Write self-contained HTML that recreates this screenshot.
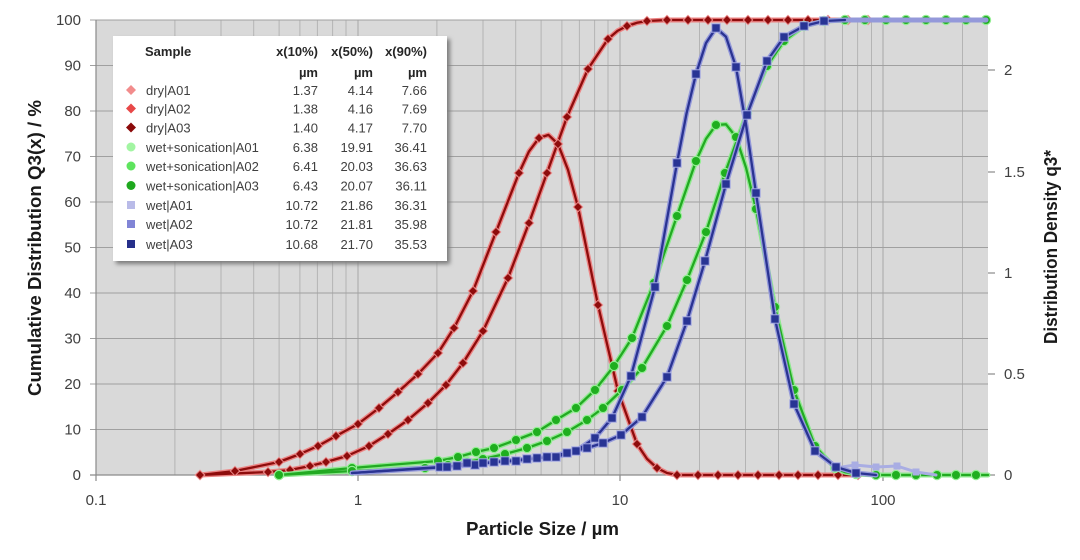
<!DOCTYPE html>
<html><head><meta charset="utf-8"><style>
html,body{margin:0;padding:0;background:#fff;}
svg{display:block;font-family:"Liberation Sans",sans-serif;}
</style></head><body>
<svg width="1080" height="560" viewBox="0 0 1080 560" xmlns="http://www.w3.org/2000/svg">
<defs>
<marker id="md" markerWidth="12" markerHeight="12" refX="6" refY="6" markerUnits="userSpaceOnUse" overflow="visible"><path d="M6 1.3 L10.7 6 L6 10.7 L1.3 6Z" fill="#8e0c0c" stroke="#ec8c8c" stroke-width="1"/></marker>
<marker id="mg" markerWidth="12" markerHeight="12" refX="6" refY="6" markerUnits="userSpaceOnUse" overflow="visible"><circle cx="6" cy="6" r="4.6" fill="#1fae1f" stroke="#93ee93" stroke-width="1.2"/></marker>
<marker id="mb" markerWidth="12" markerHeight="12" refX="6" refY="6" markerUnits="userSpaceOnUse" overflow="visible"><rect x="1.8" y="1.8" width="8.4" height="8.4" fill="#283494" stroke="#a3a8e2" stroke-width="1"/></marker>
<marker id="mbl" markerWidth="12" markerHeight="12" refX="6" refY="6" markerUnits="userSpaceOnUse" overflow="visible"><rect x="2.5" y="2.5" width="7" height="7" fill="#a9ade3"/></marker>
<filter id="sh" x="-5%" y="-5%" width="110%" height="110%"><feGaussianBlur stdDeviation="2"/></filter>
</defs>

<!-- plot background -->
<rect x="96" y="20" width="892" height="455" fill="#d9d9d9"/>

<!-- vertical grid -->
<g stroke="#b4b4b4" stroke-width="1">
<line x1="174.9" y1="20" x2="174.9" y2="475"/><line x1="221" y1="20" x2="221" y2="475"/><line x1="253.7" y1="20" x2="253.7" y2="475"/><line x1="279.1" y1="20" x2="279.1" y2="475"/><line x1="299.9" y1="20" x2="299.9" y2="475"/><line x1="317.4" y1="20" x2="317.4" y2="475"/><line x1="332.6" y1="20" x2="332.6" y2="475"/><line x1="346" y1="20" x2="346" y2="475"/>
<line x1="358" y1="20" x2="358" y2="475" stroke="#a8a8a8"/>
<line x1="436.9" y1="20" x2="436.9" y2="475"/><line x1="483" y1="20" x2="483" y2="475"/><line x1="515.7" y1="20" x2="515.7" y2="475"/><line x1="541.1" y1="20" x2="541.1" y2="475"/><line x1="561.9" y1="20" x2="561.9" y2="475"/><line x1="579.4" y1="20" x2="579.4" y2="475"/><line x1="594.6" y1="20" x2="594.6" y2="475"/><line x1="608" y1="20" x2="608" y2="475"/>
<line x1="620" y1="20" x2="620" y2="475" stroke="#a8a8a8"/>
<line x1="699.5" y1="20" x2="699.5" y2="475"/><line x1="745.5" y1="20" x2="745.5" y2="475"/><line x1="778.5" y1="20" x2="778.5" y2="475"/><line x1="804" y1="20" x2="804" y2="475"/><line x1="825" y1="20" x2="825" y2="475"/><line x1="842.5" y1="20" x2="842.5" y2="475"/><line x1="857.6" y1="20" x2="857.6" y2="475"/><line x1="871.5" y1="20" x2="871.5" y2="475"/>
<line x1="883" y1="20" x2="883" y2="475" stroke="#a8a8a8"/>
<line x1="962.5" y1="20" x2="962.5" y2="475"/>
</g>
<!-- horizontal grid -->
<g stroke="#a0a0a0" stroke-width="1">
<line x1="90" y1="20" x2="988" y2="20"/><line x1="90" y1="65.5" x2="988" y2="65.5"/><line x1="90" y1="111" x2="988" y2="111"/><line x1="90" y1="156.5" x2="988" y2="156.5"/><line x1="90" y1="202" x2="988" y2="202"/><line x1="90" y1="247.5" x2="988" y2="247.5"/><line x1="90" y1="293" x2="988" y2="293"/><line x1="90" y1="338.5" x2="988" y2="338.5"/><line x1="90" y1="384" x2="988" y2="384"/><line x1="90" y1="429.5" x2="988" y2="429.5"/>
</g>
<!-- axes -->
<g stroke="#8a8a8a" stroke-width="1.2">
<line x1="96" y1="20" x2="96" y2="475"/>
<line x1="90" y1="475" x2="988" y2="475"/>
<line x1="96" y1="475" x2="96" y2="481"/><line x1="358" y1="475" x2="358" y2="481"/><line x1="620" y1="475" x2="620" y2="481"/><line x1="883" y1="475" x2="883" y2="481"/>
<line x1="988" y1="475" x2="995" y2="475"/><line x1="988" y1="374" x2="995" y2="374"/><line x1="988" y1="273" x2="995" y2="273"/><line x1="988" y1="172" x2="995" y2="172"/><line x1="988" y1="70" x2="995" y2="70"/>
</g>

<!-- tick labels -->
<g font-size="15" fill="#404040" text-anchor="end">
<text x="81" y="25">100</text><text x="81" y="70.5">90</text><text x="81" y="116">80</text><text x="81" y="161.5">70</text><text x="81" y="207">60</text><text x="81" y="252.5">50</text><text x="81" y="298">40</text><text x="81" y="343.5">30</text><text x="81" y="389">20</text><text x="81" y="434.5">10</text><text x="81" y="480">0</text>
</g>
<g font-size="15" fill="#404040" text-anchor="start">
<text x="1004" y="480">0</text><text x="1004" y="379">0.5</text><text x="1004" y="278">1</text><text x="1004" y="177">1.5</text><text x="1004" y="75">2</text>
</g>
<g font-size="15" fill="#404040" text-anchor="middle">
<text x="96" y="505">0.1</text><text x="358" y="505">1</text><text x="620" y="505">10</text><text x="883" y="505">100</text>
</g>

<!-- axis titles -->
<text x="542.5" y="535" font-size="18" font-weight="bold" fill="#1a1a1a" text-anchor="middle" textLength="153" lengthAdjust="spacingAndGlyphs">Particle Size / µm</text>
<text transform="translate(41,248) rotate(-90)" font-size="18" font-weight="bold" fill="#1a1a1a" text-anchor="middle" textLength="296" lengthAdjust="spacingAndGlyphs">Cumulative Distribution Q3(x) / %</text>
<text transform="translate(1057,247) rotate(-90)" font-size="18" font-weight="bold" fill="#1a1a1a" text-anchor="middle" textLength="194" lengthAdjust="spacingAndGlyphs">Distribution Density q3*</text>

<!-- ===== DRY ===== -->
<g fill="none" stroke-linejoin="round" stroke-linecap="round">
<polyline stroke="#ec8484" stroke-width="5" points="200,475 235,471 279,462 300,454 318,446 336,436 358,424 379,408 398,392 418,374 438,353 454,328 473,291 496,232 519,173 529,151.4 539,138 548.5,134.9 558,144 568,169.8 578,207 598,305 618,391 637,444 647,458.9 657,468 667,473 677,475 858,475"/>
<polyline stroke="#ec8484" stroke-width="5" points="200,475 268,472 290,470 310,466 326,462 347,456 369,446 388,434 408,420 428,403 446,385 463,363 483,331 508,278 529,223 547,173 567,117 588,69 608,39 617.5,30.9 627,26 637,22.8 647,21 667,20 868,20"/>
<polyline stroke="#8e0c0c" stroke-width="2.3" points="200,475 235,471 279,462 300,454 318,446 336,436 358,424 379,408 398,392 418,374 438,353 454,328 473,291 496,232 519,173 529,151.4 539,138 548.5,134.9 558,144 568,169.8 578,207 598,305 618,391 637,444 647,458.9 657,468 667,473 677,475 858,475"/>
<polyline stroke="#8e0c0c" stroke-width="2.3" points="200,475 268,472 290,470 310,466 326,462 347,456 369,446 388,434 408,420 428,403 446,385 463,363 483,331 508,278 529,223 547,173 567,117 588,69 608,39 617.5,30.9 627,26 637,22.8 647,21 667,20 868,20"/>
<polyline stroke="none" marker-start="url(#md)" marker-mid="url(#md)" marker-end="url(#md)" points="200,475 235,471 279,462 300,454 318,446 336,436 358,424 379,408 398,392 418,374 438,353 454,328 473,291 496,232 519,173 539,138 558,144 578,207 598,305 618,391 637,444 657,468 677,475 698,475 718,475 738,475 758,475 779,475 798,475 818,475 838,475 858,475"/>
<polyline stroke="none" marker-start="url(#md)" marker-mid="url(#md)" marker-end="url(#md)" points="200,475 268,472 290,470 310,466 326,462 347,456 369,446 388,434 408,420 428,403 446,385 463,363 483,331 508,278 529,223 547,173 567,117 588,69 608,39 627,26 647,21 667,20 688,20 708,20 727,20 748,20 768,20 788,20 808,20 828,20 848,20 868,20"/>
</g>

<!-- ===== WET + SONICATION (green) ===== -->
<g fill="none" stroke-linejoin="round" stroke-linecap="round">
<polyline stroke="#8fe88f" stroke-width="5" points="279,475 352,468 438,461 458,457 476,452 494,448 516,440 537,432 556,420 576,408 595,390 614,366 632,338 654,283 677,216 696,161 706,138.8 716,125 726,124.3 736,137 746,167.6 756,209 775,307 794,390 815,446 835,468 845.5,472.3 856,474 876,475 988,475"/>
<polyline stroke="#8fe88f" stroke-width="5" points="279,475 352,471 425,468 448,465 467,462 483,459 505,454 527,448 547,441 567,432 587,420 603,408 622,390 642,368 667,326 687,280 706,232 725,173 747,113 767,66 784,41 804,26 824,21 845,20 988,20"/>
<polyline stroke="#22aa22" stroke-width="2.3" points="279,475 352,468 438,461 458,457 476,452 494,448 516,440 537,432 556,420 576,408 595,390 614,366 632,338 654,283 677,216 696,161 706,138.8 716,125 726,124.3 736,137 746,167.6 756,209 775,307 794,390 815,446 835,468 845.5,472.3 856,474 876,475 988,475"/>
<polyline stroke="#22aa22" stroke-width="2.3" points="279,475 352,471 425,468 448,465 467,462 483,459 505,454 527,448 547,441 567,432 587,420 603,408 622,390 642,368 667,326 687,280 706,232 725,173 747,113 767,66 784,41 804,26 824,21 845,20 988,20"/>
<polyline stroke="none" marker-start="url(#mg)" marker-mid="url(#mg)" marker-end="url(#mg)" points="279,475 352,468 438,461 458,457 476,452 494,448 516,440 537,432 556,420 576,408 595,390 614,366 632,338 654,283 677,216 696,161 716,125 736,137 756,209 775,307 794,390 815,446 835,468 856,474 876,475 896,475 916,475 937,475 956,475 976,475"/>
<polyline stroke="none" marker-start="url(#mg)" marker-mid="url(#mg)" marker-end="url(#mg)" points="279,475 352,471 425,468 448,465 467,462 483,459 505,454 527,448 547,441 567,432 587,420 603,408 622,390 642,368 667,326 687,280 706,232 725,173 747,113 767,66 784,41 804,26 824,21 845,20 865,20 886,20 906,20 926,20 946,20 966,20 986,20"/>
</g>

<!-- ===== WET (blue) ===== -->
<g fill="none" stroke-linejoin="round" stroke-linecap="round">
<polyline stroke="#a9ade3" stroke-width="3" marker-mid="url(#mbl)" points="836,468 855,465 876,467 897,466 916,472 936,475"/>
<polyline stroke="#9499da" stroke-width="5" points="352,473 440,467 457,466 475,465 494,462 516,461 537,458 556,457 576,451 595,438 612,418 631,376 655,287 677,163 686.5,113.6 696,74 706,43 716,28 726,36.8 736,67 746,124.6 756,193 775,319 794,404 815,451 836,467 856,473 876,475"/>
<polyline stroke="#9499da" stroke-width="5" points="352,473 447,467 467,463 483,463 505,461 527,459 547,457 567,453 587,448 603,443 621,435 642,417 667,377 687,321 705,261 726,184 747,115 767,61 784,37 804,26 824,21 845,20 986,20"/>
<polyline stroke="#2a3392" stroke-width="2.3" points="352,473 440,467 457,466 475,465 494,462 516,461 537,458 556,457 576,451 595,438 612,418 631,376 655,287 677,163 686.5,113.6 696,74 706,43 716,28 726,36.8 736,67 746,124.6 756,193 775,319 794,404 815,451 836,467 856,473 876,475"/>
<polyline stroke="#2a3392" stroke-width="2.3" points="352,473 447,467 467,463 483,463 505,461 527,459 547,457 567,453 587,448 603,443 621,435 642,417 667,377 687,321 705,261 726,184 747,115 767,61 784,37 804,26 824,21 845,20"/>
<polyline stroke="none" marker-mid="url(#mb)" points="352,473 440,467 457,466 475,465 494,462 516,461 537,458 556,457 576,451 595,438 612,418 631,376 655,287 677,163 696,74 716,28 736,67 756,193 775,319 794,404 815,451 836,467 856,473 876,475"/>
<polyline stroke="none" marker-mid="url(#mb)" points="352,473 447,467 467,463 483,463 505,461 527,459 547,457 567,453 587,448 603,443 621,435 642,417 667,377 687,321 705,261 726,184 747,115 767,61 784,37 804,26 824,21 845,20"/>
</g>

<!-- ===== LEGEND ===== -->
<rect x="116" y="39" width="334" height="225" fill="#7a7a7a" filter="url(#sh)"/>
<rect x="113" y="36" width="334" height="225" fill="#ffffff"/>
<g font-size="13" fill="#262626">
<text x="145" y="56" font-weight="bold">Sample</text>
<g text-anchor="end" font-weight="bold">
<text x="318" y="56">x(10%)</text><text x="373" y="56">x(50%)</text><text x="427" y="56">x(90%)</text>
<text x="318" y="77">µm</text><text x="373" y="77">µm</text><text x="427" y="77">µm</text>
</g>
</g>
<g font-size="13" fill="#404040">
<text x="146" y="95">dry|A01</text>
<text x="146" y="113.5">dry|A02</text>
<text x="146" y="132.5">dry|A03</text>
<text x="146" y="152">wet+sonication|A01</text>
<text x="146" y="171">wet+sonication|A02</text>
<text x="146" y="190.5">wet+sonication|A03</text>
<text x="146" y="210">wet|A01</text>
<text x="146" y="229">wet|A02</text>
<text x="146" y="249">wet|A03</text>
<g text-anchor="end">
<text x="318" y="95">1.37</text><text x="373" y="95">4.14</text><text x="427" y="95">7.66</text>
<text x="318" y="113.5">1.38</text><text x="373" y="113.5">4.16</text><text x="427" y="113.5">7.69</text>
<text x="318" y="132.5">1.40</text><text x="373" y="132.5">4.17</text><text x="427" y="132.5">7.70</text>
<text x="318" y="152">6.38</text><text x="373" y="152">19.91</text><text x="427" y="152">36.41</text>
<text x="318" y="171">6.41</text><text x="373" y="171">20.03</text><text x="427" y="171">36.63</text>
<text x="318" y="190.5">6.43</text><text x="373" y="190.5">20.07</text><text x="427" y="190.5">36.11</text>
<text x="318" y="210">10.72</text><text x="373" y="210">21.86</text><text x="427" y="210">36.31</text>
<text x="318" y="229">10.72</text><text x="373" y="229">21.81</text><text x="427" y="229">35.98</text>
<text x="318" y="249">10.68</text><text x="373" y="249">21.70</text><text x="427" y="249">35.53</text>
</g>
</g>
<!-- legend markers -->
<path d="M131 85 L136 90 L131 95 L126 90Z" fill="#f28c8c"/>
<path d="M131 103.5 L136 108.5 L131 113.5 L126 108.5Z" fill="#e84848"/>
<path d="M131 122.5 L136 127.5 L131 132.5 L126 127.5Z" fill="#8b0a0a"/>
<circle cx="131" cy="147" r="4.5" fill="#a2f5a2"/>
<circle cx="131" cy="166" r="4.5" fill="#5ee45e"/>
<circle cx="131" cy="185.5" r="4.5" fill="#1ea81e"/>
<rect x="127" y="201" width="8" height="8" fill="#b9bbe8"/>
<rect x="127" y="220" width="8" height="8" fill="#8185d6"/>
<rect x="127" y="240" width="8" height="8" fill="#262f8a"/>
</svg>
</body></html>
